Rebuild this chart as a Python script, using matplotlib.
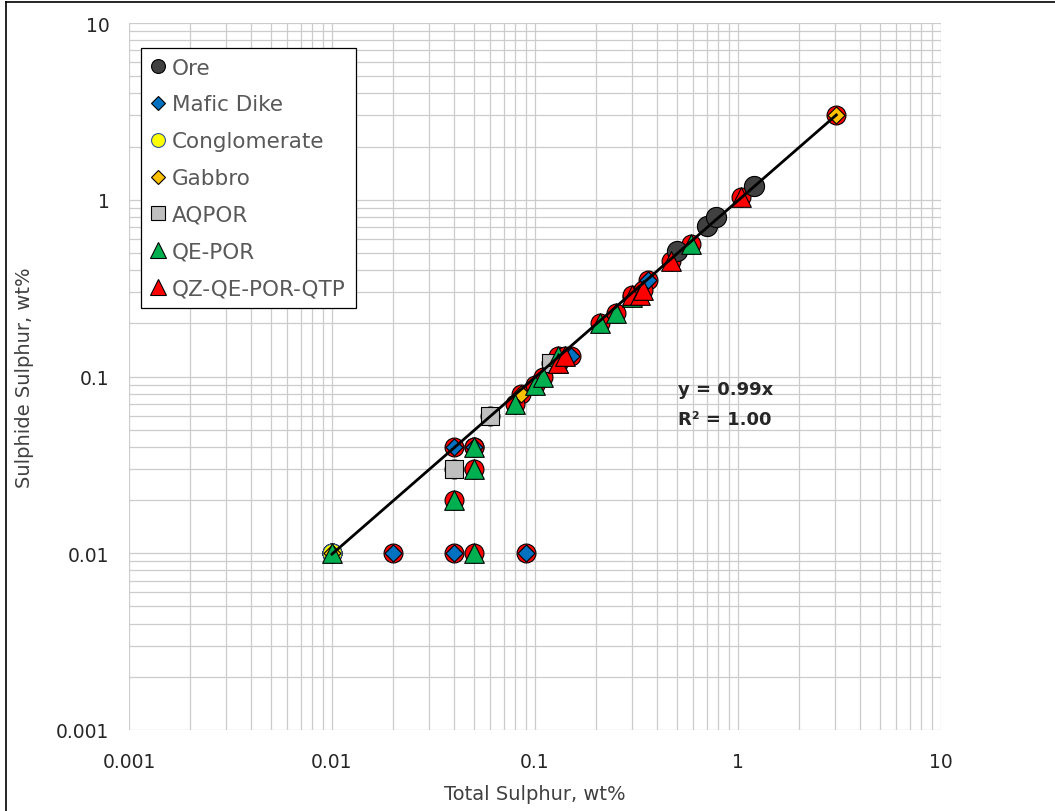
import numpy as np
import matplotlib.pyplot as plt
from matplotlib.lines import Line2D

# data (total S, sulphide S), wt%
ore_x = [0.50, 0.70, 0.78, 1.20]
ore_y = [0.51, 0.71, 0.80, 1.20]

mafic_x = [0.02, 0.04, 0.09, 0.04, 0.05, 0.15, 0.36]
mafic_y = [0.01, 0.01, 0.01, 0.04, 0.04, 0.13, 0.35]

cong_x = [0.01]
cong_y = [0.01]

gabbro_x = [0.01, 0.085, 3.05]
gabbro_y = [0.01, 0.08, 3.02]

aqpor_x = [0.04, 0.06, 0.12]
aqpor_y = [0.03, 0.06, 0.12]

qepor_x = [0.01, 0.04, 0.05, 0.05, 0.05, 0.08, 0.10, 0.11, 0.13, 0.13, 0.21, 0.25, 0.30, 0.59]
qepor_y = [0.01, 0.02, 0.01, 0.03, 0.04, 0.07, 0.09, 0.10, 0.12, 0.13, 0.20, 0.23, 0.28, 0.56]

qz_x = [0.13, 0.14, 0.30, 0.33, 0.34, 0.47, 1.03]
qz_y = [0.12, 0.13, 0.29, 0.29, 0.31, 0.45, 1.03]

# all samples (red circles under everything, trendline series)
all_x = np.array(ore_x + mafic_x + cong_x + gabbro_x + aqpor_x + qepor_x + qz_x)
all_y = np.array(ore_y + mafic_y + cong_y + gabbro_y + aqpor_y + qepor_y + qz_y)

# linear fit through origin, as Excel does with intercept = 0
slope = np.sum(all_x * all_y) / np.sum(all_x ** 2)
r2 = 1 - np.sum((all_y - slope * all_x) ** 2) / np.sum(all_y ** 2)

W, H = 1055, 812
fig = plt.figure(figsize=(W / 100, H / 100), dpi=100)
ax = fig.add_axes([129 / W, 1 - 731 / H, 812 / W, 707 / H])

edge = 'black'
ax.scatter(all_x, all_y, s=185, marker='o', c='#FF0000', edgecolors=edge, linewidths=0.8, zorder=3)
ax.scatter(ore_x, ore_y, s=210, marker='o', c='#404040', edgecolors=edge, linewidths=0.8, zorder=4)
ax.scatter(mafic_x, mafic_y, s=75, marker='D', c='#0070C0', edgecolors=edge, linewidths=0.8, zorder=5)
ax.scatter(cong_x, cong_y, s=185, marker='o', c='#FFFF00', edgecolors='#2F5597', linewidths=0.8, zorder=6)
ax.scatter(gabbro_x, gabbro_y, s=75, marker='D', c='#FFC000', edgecolors=edge, linewidths=0.8, zorder=7)
ax.scatter(aqpor_x, aqpor_y, s=180, marker='s', c='#BFBFBF', edgecolors=edge, linewidths=0.8, zorder=8)
ax.scatter(qepor_x, qepor_y, s=200, marker='^', c='#00B050', edgecolors=edge, linewidths=0.8, zorder=9)
ax.scatter(qz_x, qz_y, s=200, marker='^', c='#FF0000', edgecolors=edge, linewidths=0.8, zorder=10)

xs = np.array([all_x.min(), all_x.max()])
ax.plot(xs, slope * xs, color='black', lw=2.0, zorder=11)

ax.set_xscale('log')
ax.set_yscale('log')
ax.set_xlim(0.001, 10)
ax.set_ylim(0.001, 10)
ax.set_xticks([0.001, 0.01, 0.1, 1, 10])
ax.set_xticklabels(['0.001', '0.01', '0.1', '1', '10'])
ax.set_yticks([0.001, 0.01, 0.1, 1, 10])
ax.set_yticklabels(['0.001', '0.01', '0.1', '1', '10'])
ax.grid(True, which='both', color='#CCCCCC', lw=0.9, zorder=0)
ax.set_axisbelow(True)
ax.tick_params(which='both', length=0, labelsize=13.5, colors='#262626')
ax.tick_params(axis='x', pad=16)
ax.tick_params(axis='y', pad=14)
for s in ax.spines.values():
    s.set_visible(False)

ax.set_xlabel('Total Sulphur, wt%', fontsize=14, color='#404040', labelpad=9)
ax.set_ylabel('Sulphide Sulphur, wt%', fontsize=14, color='#404040', labelpad=16)

ax.text(0.676, 0.482, 'y = %.2fx' % slope, transform=ax.transAxes, fontsize=13,
        fontweight='bold', color='#262626', va='center', ha='left')
ax.text(0.676, 0.440, 'R² = %.2f' % r2, transform=ax.transAxes, fontsize=13,
        fontweight='bold', color='#262626', va='center', ha='left')

handles = [
    Line2D([], [], ls='', marker='o', ms=10, mfc='#404040', mec=edge, mew=0.8),
    Line2D([], [], ls='', marker='D', ms=7, mfc='#0070C0', mec=edge, mew=0.8),
    Line2D([], [], ls='', marker='o', ms=10, mfc='#FFFF00', mec='#2F5597', mew=0.8),
    Line2D([], [], ls='', marker='D', ms=7, mfc='#FFC000', mec=edge, mew=0.8),
    Line2D([], [], ls='', marker='s', ms=10, mfc='#BFBFBF', mec=edge, mew=0.8),
    Line2D([], [], ls='', marker='^', ms=11, mfc='#00B050', mec=edge, mew=0.8),
    Line2D([], [], ls='', marker='^', ms=11, mfc='#FF0000', mec=edge, mew=0.8),
]
labels = ['Ore', 'Mafic Dike', 'Conglomerate', 'Gabbro', 'AQPOR', 'QE-POR', 'QZ-QE-POR-QTP']
leg = ax.legend(handles, labels, loc='upper left', bbox_to_anchor=(12 / 812, 1 - 25 / 707),
                borderaxespad=0, fontsize=15.5, labelcolor='#595959', frameon=True,
                fancybox=False, framealpha=1, edgecolor='black', handlelength=0.7,
                handletextpad=0.3, labelspacing=0.78, borderpad=0.45)
leg.get_frame().set_linewidth(0.9)
leg.set_zorder(20)

# chart border (top and left edges of the outer frame)
fig.add_artist(Line2D([6 / W, 6 / W], [0, 1 - 3 / H], color='black', lw=1.2))
fig.add_artist(Line2D([6 / W, 1], [1 - 3 / H, 1 - 3 / H], color='black', lw=1.2))

fig.savefig('out.png', dpi=100)
